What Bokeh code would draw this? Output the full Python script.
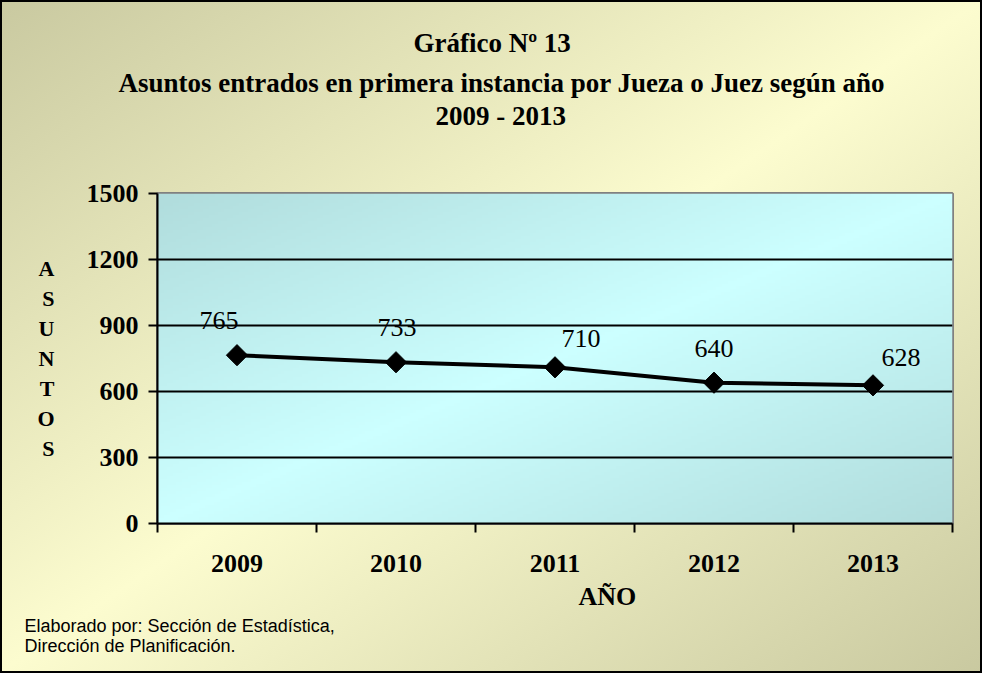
import numpy as np
from bokeh.plotting import figure
from bokeh.models import Range1d, FixedTicker, Title, ColumnDataSource, LabelSet
from bokeh.embed import file_html
from bokeh.resources import INLINE

# ---- data ----
years = ["2009", "2010", "2011", "2012", "2013"]
asuntos = [765, 733, 710, 640, 628]
y_ticks = [0, 300, 600, 900, 1200, 1500]
y_max = 1500

title_lines = ["Gráfico Nº 13",
               "Asuntos entrados en primera instancia por Jueza o Juez según año",
               "2009 - 2013"]
y_title = "ASUNTOS"
x_title = "AÑO"
footer = "Elaborado por: Sección de Estadística,\nDirección de Planificación."

# data label pixel offsets (layout only)
label_dx = [-18, 1, 26, 0, 28]
label_dy = [35, 35, 29, 34, 28]

SERIF = "Liberation Serif"
SANS = "Liberation Sans"

W, H = 982, 673
ML, MR, MT, MB = 157, 30, 193, 150
NX = len(years)

p = figure(width=W, height=H, output_backend="svg", toolbar_location=None,
           title=None,
           x_range=Range1d(0, NX), y_range=Range1d(0, y_max),
           min_border_left=ML, min_border_right=MR,
           min_border_top=MT, min_border_bottom=MB)

p.styles = {
    "background": "linear-gradient(to bottom right, #c9c9a0 0%, #fcfccf 50%, #c9c9a0 100%)",
    "box-shadow": "inset 0 0 0 2px #000000",
}
p.border_fill_alpha = 0
p.background_fill_alpha = 0
p.outline_line_color = "#808080"
p.outline_line_width = 3

# plot-area gradient
nx, ny = 265, 110
u = np.linspace(0, 1, nx)[None, :]
v = np.linspace(1, 0, ny)[:, None]  # row 0 is bottom
t = (u + v) / 2.0
w = 1 - np.abs(2 * t - 1)
dark = np.array([176, 220, 220], dtype=float)
light = np.array([204, 255, 255], dtype=float)
rgb = dark + (light - dark) * w[..., None]
img = np.empty((ny, nx), dtype=np.uint32)
view = img.view(dtype=np.uint8).reshape((ny, nx, 4))
view[..., 0:3] = np.round(rgb).astype(np.uint8)
view[..., 3] = 255
p.image_rgba(image=[img], x=0, y=0, dw=NX, dh=y_max, level="image")

# grid
p.xgrid.visible = False
p.ygrid.ticker = FixedTicker(ticks=[t_ for t_ in y_ticks if 0 < t_ < y_max])
p.ygrid.grid_line_color = "black"
p.ygrid.grid_line_width = 2

# y axis
xs = [i + 0.5 for i in range(NX)]
ya = p.yaxis[0]
ya.ticker = FixedTicker(ticks=y_ticks)
ya.axis_line_width = 2
ya.axis_line_color = "black"
ya.major_tick_in = 0
ya.major_tick_out = 9
ya.major_tick_line_width = 2
ya.minor_tick_line_color = None
ya.major_label_text_font = SERIF
ya.major_label_text_font_style = "bold"
ya.major_label_text_font_size = "26px"
ya.major_label_text_color = "black"
ya.major_label_standoff = 10
ya.axis_label = "\n".join(y_title)
ya.axis_label_orientation = "horizontal"
ya.axis_label_text_font = SERIF
ya.axis_label_text_font_style = "bold"
ya.axis_label_text_font_size = "22px"
ya.axis_label_text_line_height = 1.2
ya.axis_label_text_color = "black"
ya.axis_label_standoff = 29

# x axis
xa = p.xaxis[0]
xa.ticker = FixedTicker(ticks=xs, minor_ticks=list(range(NX + 1)))
xa.major_label_overrides = {x: y for x, y in zip(xs, years)}
xa.axis_line_width = 2
xa.axis_line_color = "black"
xa.major_tick_line_color = None
xa.major_tick_in = 0
xa.major_tick_out = 0
xa.minor_tick_in = 0
xa.minor_tick_out = 9
xa.minor_tick_line_width = 2
xa.minor_tick_line_color = "black"
xa.major_label_text_font = SERIF
xa.major_label_text_font_style = "bold"
xa.major_label_text_font_size = "26px"
xa.major_label_text_color = "black"
xa.major_label_standoff = 22

# series
p.line(xs, asuntos, line_width=4, line_color="black")
p.scatter(xs, asuntos, marker="square", size=15, angle=np.pi / 4,
          fill_color="black", line_color="black")

src = ColumnDataSource(dict(x=xs, y=asuntos, t=[str(a) for a in asuntos],
                            dx=label_dx, dy=label_dy))
p.add_layout(LabelSet(x="x", y="y", text="t", source=src,
                      x_offset="dx", y_offset="dy",
                      text_font=SERIF, text_font_size="26px",
                      text_align="center", text_baseline="middle",
                      text_color="black"))

# titles (above panels, first added = closest to the frame)
title_offsets = [256, -39, 278]
title_standoffs = [14, 2, 0]
p.add_layout(Title(text=" ", standoff=31, text_font_size="27px"), "above")
for txt, off, so in reversed(list(zip(title_lines, title_offsets, title_standoffs))):
    p.add_layout(Title(text=txt, align="left", offset=off, standoff=so,
                       text_font=SERIF, text_font_style="bold",
                       text_font_size="27px", text_color="black"), "above")

# x title and footer (below panels)
p.add_layout(Title(text=x_title, align="left", offset=421, standoff=10,
                   text_font=SERIF, text_font_style="bold",
                   text_font_size="26px", text_color="black"), "below")
p.add_layout(Title(text=footer, align="left", offset=-133, standoff=0,
                   vertical_align="top",
                   text_font=SANS, text_font_style="normal",
                   text_font_size="18px", text_line_height=1.0,
                   text_color="black"), "below")

open("out.html", "w").write(file_html(p, INLINE))
